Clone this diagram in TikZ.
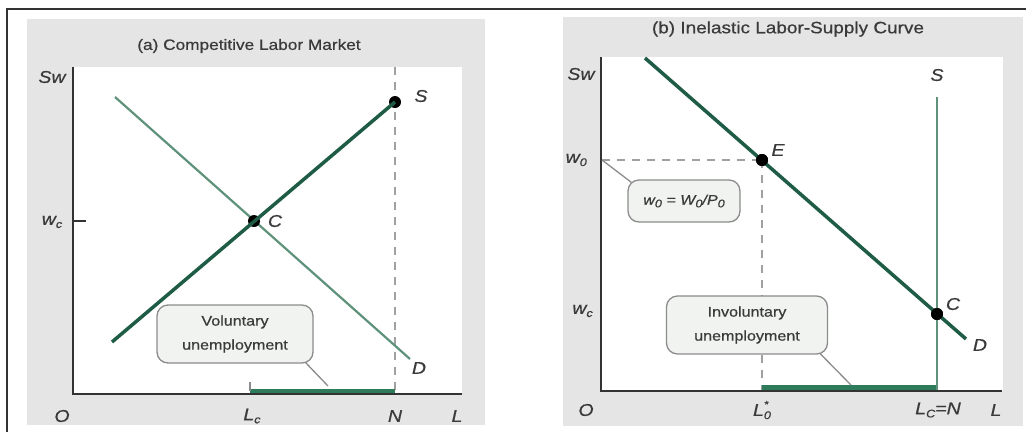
\documentclass[tikz,border=0pt]{standalone}
\usepackage{fontspec}
\setmainfont{Liberation Sans}[FakeStretch=1.15,FakeBold=0.6]
\usetikzlibrary{calc}
\definecolor{dgreen}{HTML}{1F5C46}
\definecolor{lgreen}{HTML}{5E927B}
\definecolor{bgreen}{HTML}{2E7B5C}
\definecolor{bggray}{HTML}{E5E5E5}
\definecolor{axcol}{HTML}{333333}
\definecolor{boxfill}{HTML}{F1F3F1}
\definecolor{boxline}{HTML}{8C8C8C}
\definecolor{txt}{HTML}{3A3A3A}
\definecolor{dashcol}{HTML}{A0A0A0}
\newcommand{\lsub}[1]{\raisebox{-0.35ex}{\fontsize{11}{11}\selectfont #1}}
\begin{document}
\begin{tikzpicture}[x=1pt,y=-1pt,
  lbl/.style={font=\fontsize{17}{17}\selectfont\itshape, text=txt, inner sep=0pt},
  ttl/.style={font=\fontsize{15}{17}\selectfont, text=txt, inner sep=0pt},
  ubox/.style={draw=boxline, line width=1.3pt, fill=boxfill, rounded corners=11pt,
    align=center, font=\fontsize{14}{24}\selectfont, text=txt, inner sep=0pt},
  axisline/.style={draw=axcol, line width=2pt},
  dotn/.style={circle, fill=black, inner sep=0pt, minimum size=12pt},
  thickcurve/.style={draw=dgreen, line width=3.5pt},
  thincurve/.style={draw=lgreen, line width=2.2pt},
  gbar/.style={draw=bgreen, line width=5pt},
  dashline/.style={draw=dashcol, line width=2pt, dash pattern=on 8pt off 7pt},
  conn/.style={draw=boxline, line width=1.3pt}
]
\useasboundingbox (0,0) rectangle (1026,432);
\fill[white] (0,0) rectangle (1026,432);
% frame
\draw[line width=2pt, color=axcol] (7,432) -- (7,9) -- (1026,9);
% panel backgrounds
\fill[bggray] (27,19) rectangle (485,425);
\fill[white] (73,67) rectangle (462,394);
\fill[bggray] (563,17) rectangle (1023,426);
\fill[white] (601,57) rectangle (1003,391);

% ================= Panel (a) =================
\node[ttl] (ta) at (249,46) {(a) Competitive Labor Market};
\coordinate (aO) at (73,394);
\coordinate (aTop) at (73,67);
\coordinate (aR) at (462,394);
\coordinate (aNtop) at (395,67);
\coordinate (aN) at (395,394);
\coordinate (aS0) at (112,342);
\coordinate (aD0) at (115,97);
\coordinate (aD1) at (410,359);
\coordinate (aLc) at (250,391);
\coordinate (aNb) at (395,391);
\coordinate (aWc) at (73,221);
\coordinate (aWct) at (86,221);
\coordinate (volend) at (328,386);

\draw[dashline] (aNtop) -- (aN);
\draw[gbar] (aLc) -- (aNb);
\draw[conn] (250,382) -- (250,391);
\draw[thincurve] (aD0) -- (aD1);
\node[dotn] (aS) at (395,102) {};
\node[dotn] (aC) at (254,221) {};
\draw[thickcurve] (aS0) -- (aS.center);
\draw[axisline] (aTop) -- (aO) -- (aR);
\draw[draw=axcol, line width=1.2pt] (aWc) -- (aWct);

\node[ubox, minimum width=156pt, minimum height=58pt] (vol) at (235,334) {Voluntary\\unemployment};
\draw[conn] ($(vol.south east)+(-8,-1)$) -- (volend);

\node[lbl] (aSw) at (52,77) {Sw};
\node[lbl] (awc) at (52,222) {w\lsub{c}};
\node[lbl] (aSl) at (421,96) {S};
\node[lbl] (aCl) at (275,221) {C};
\node[lbl] (aDl) at (419,368) {D};
\node[lbl] (aOl) at (62,416) {O};
\node[lbl] (aLcl) at (252,416) {L\lsub{c}};
\node[lbl] (aNl) at (395,416) {N};
\node[lbl] (aLl) at (457,416) {L};

% ================= Panel (b) =================
\node[ttl, font=\fontsize{16.5}{18}\selectfont] (tb) at (788,29) {(b) Inelastic Labor-Supply Curve};
\coordinate (bO) at (601,391);
\coordinate (bTop) at (601,57);
\coordinate (bR) at (1002,391);
\coordinate (bD0) at (645,58);
\coordinate (bD1) at (966,339);
\coordinate (bStop) at (937,97);
\coordinate (bSbot) at (937,391);
\coordinate (bw0) at (602,160);
\coordinate (bL0) at (762,391);
\coordinate (bL0b) at (762,387);
\coordinate (bNb) at (937,387);
\coordinate (invend) at (851,385);

\node[dotn] (bE) at (762,160) {};
\node[dotn] (bC) at (937,314) {};
\draw[dashline] (bw0) -- (bE.center);
\draw[dashline] (bE.center) -- (bL0);
\draw[gbar] (bL0b) -- (bNb);
\draw[thincurve] (bStop) -- (bSbot);
\draw[thickcurve] (bD0) -- (bD1);
\node[dotn] at (bE) {};
\node[dotn] at (bC) {};
\draw[axisline] (bTop) -- (bO) -- (bR);

\node[ubox, minimum width=112pt, minimum height=42pt, font=\fontsize{14}{16}\selectfont\itshape] (w0box) at (684,201) {w\lsub{0} = W\lsub{0}/P\lsub{0}};
\draw[conn] (bw0) -- ($(w0box.north west)+(4,3)$);
\node[ubox, minimum width=161pt, minimum height=58pt] (inv) at (747,325) {Involuntary\\unemployment};
\draw[conn] ($(inv.south east)+(-8,-1)$) -- (invend);

\node[lbl] (bSw) at (581,74) {Sw};
\node[lbl, anchor=east] (bw0l) at (587,160) {w\lsub{0}};
\node[lbl, anchor=east] (bwcl) at (593,311) {w\lsub{c}};
\node[lbl] (bEl) at (778,150) {E};
\node[lbl] (bCl) at (953,304) {C};
\node[lbl] (bDl) at (980,345) {D};
\node[lbl] (bSl) at (937,75) {S};
\node[lbl] (bOl) at (586,410) {O};
\node[lbl] (bL0l) at (762,410) {L\rlap{\raisebox{0.9ex}{\fontsize{10}{10}\selectfont *}}\lsub{0}};
\node[lbl] (bLNl) at (938,410) {L\lsub{C}=N};
\node[lbl] (bLl) at (996,410) {L};
\end{tikzpicture}
\end{document}
